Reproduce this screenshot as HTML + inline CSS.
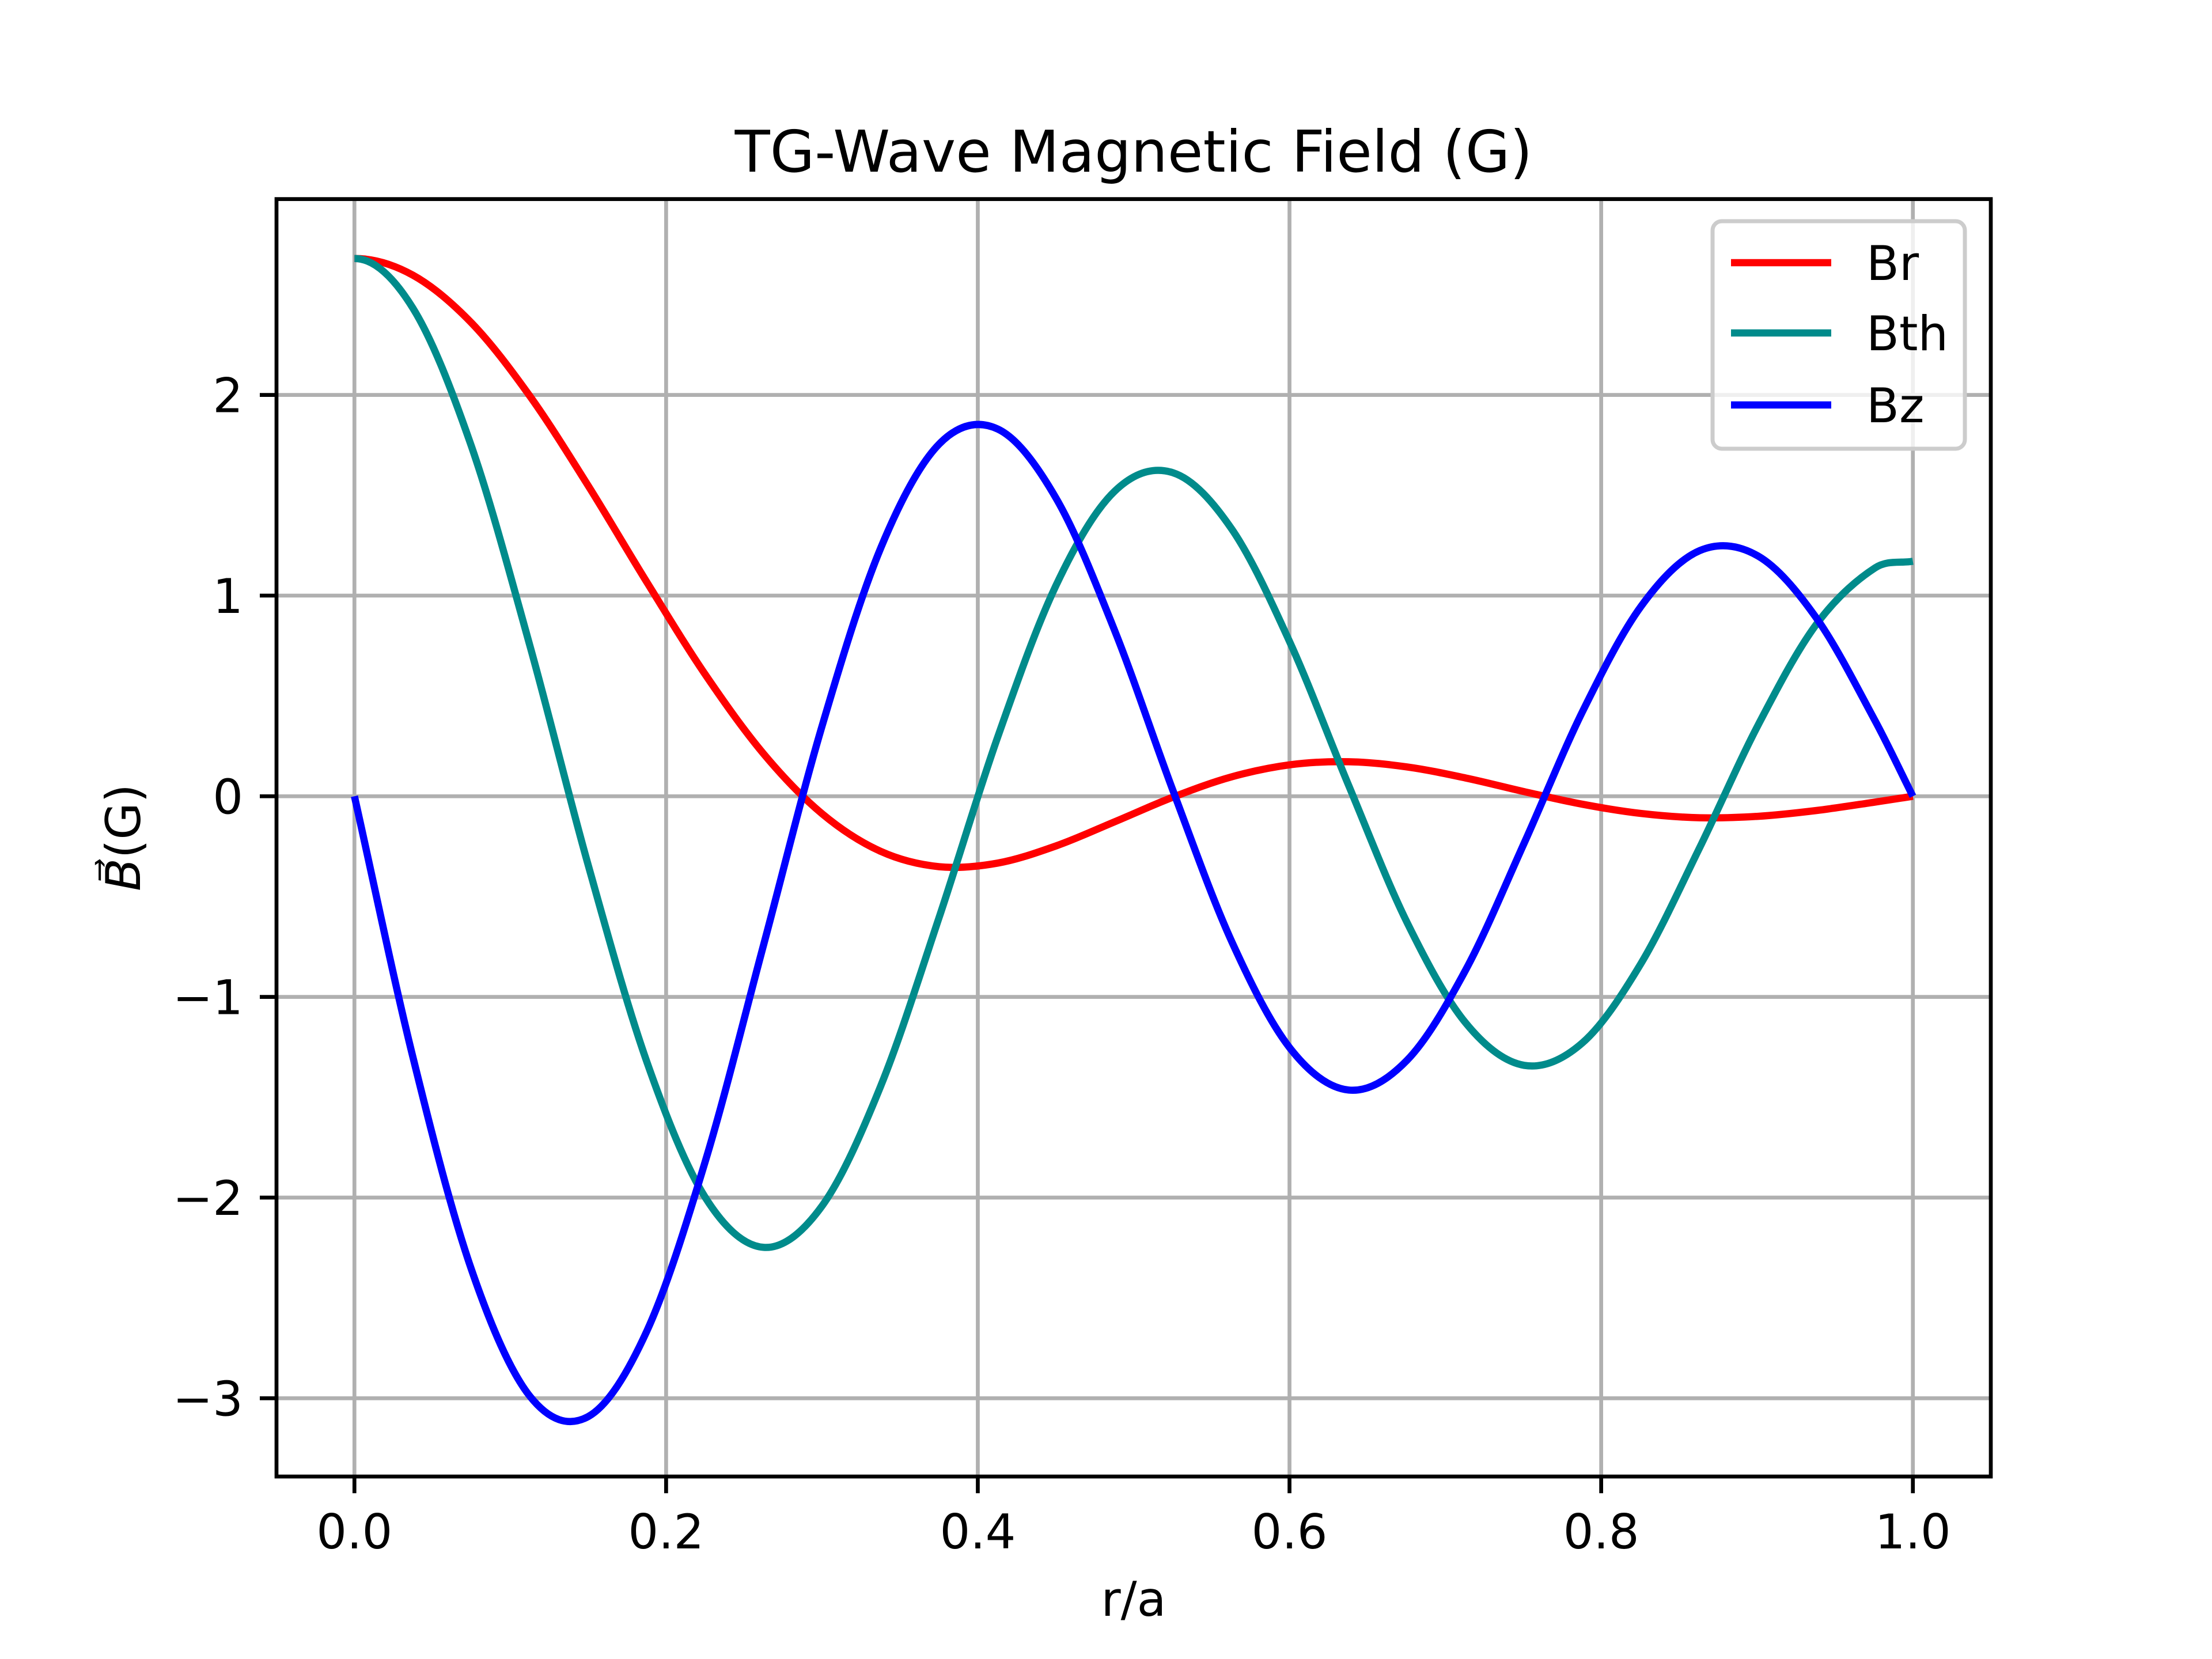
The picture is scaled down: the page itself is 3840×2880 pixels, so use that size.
<!DOCTYPE html>
<html><head><meta charset="utf-8"><style>
html,body{margin:0;padding:0;background:#fff;}
svg{display:block;font-family:"DejaVu Sans","Liberation Sans",sans-serif;}
</style></head><body>
<svg id="chart" width="3840" height="2880" viewBox="0 0 3840 2880" xmlns="http://www.w3.org/2000/svg">
<rect width="3840" height="2880" fill="#fff"/>
<g id="grid"></g>
<g id="series"></g>
<g id="axes"></g>
<text x="1968" y="298" font-size="100" text-anchor="middle">TG-Wave Magnetic Field (G)</text>
<text x="1968" y="2805" font-size="83" text-anchor="middle">r/a</text>
<text transform="translate(243,1454) rotate(-90)" font-size="83" text-anchor="middle"><tspan font-style="italic">B⃗</tspan>(G)</text>
<g id="legend">
<rect x="2973" y="384" width="438" height="395" rx="16" fill="#fff" fill-opacity="0.8" stroke="#cccccc" stroke-width="7"/>
</g>
</svg>
<script>
const rVals = [0, 0.0375, 0.0751, 0.1126, 0.1501, 0.1877, 0.2252, 0.2627, 0.3002, 0.3378, 0.3753, 0.4128, 0.4504, 0.4879, 0.5254, 0.5630, 0.6005, 0.6380, 0.6755, 0.7131, 0.7506, 0.7881, 0.8257, 0.8632, 0.9007, 0.9382, 0.9757, 1.0];
const brVals = [2.68, 2.597, 2.359, 1.994, 1.546, 1.066, 0.606, 0.210, -0.088, -0.275, -0.351, -0.333, -0.247, -0.127, -0.004, 0.097, 0.157, 0.172, 0.146, 0.091, 0.023, -0.040, -0.086, -0.107, -0.100, -0.071, -0.029, 0];
const bthVals = [2.68, 2.433, 1.743, 0.750, -0.346, -1.325, -2.000, -2.248, -2.040, -1.442, -0.601, 0.296, 1.054, 1.521, 1.612, 1.331, 0.763, 0.053, -0.630, -1.130, -1.341, -1.228, -0.831, -0.256, 0.355, 0.858, 1.138, 1.171];
const bzVals = [0, -1.299, -2.359, -2.990, -3.091, -2.664, -1.818, -0.736, 0.354, 1.239, 1.756, 1.830, 1.483, 0.824, 0.025, -0.725, -1.257, -1.464, -1.315, -0.865, -0.233, 0.423, 0.948, 1.224, 1.197, 0.887, 0.377, 0];
const seriesNames = ["Br", "Bth", "Bz"];
const seriesColors = ["#ff0000", "#008b8b", "#0000ff"];
const seriesParity = [1, 1, -1];
const xTicks = [0, 0.2, 0.4, 0.6, 0.8, 1.0];
const xTickLabels = ["0.0", "0.2", "0.4", "0.6", "0.8", "1.0"];
const yTicks = [-3, -2, -1, 0, 1, 2];
const yTickLabels = ["\u22123", "\u22122", "\u22121", "0", "1", "2"];

const NS = "http://www.w3.org/2000/svg";
const L = 480, R = 3456, T = 345.6, B = 2563.2;
const xMin = -0.05, xMax = 1.05, yMin = -3.39, yMax = 2.976;
function sx(v){ return L + (v - xMin) / (xMax - xMin) * (R - L); }
function sy(v){ return B - (v - yMin) / (yMax - yMin) * (B - T); }
function mk(tag, attrs, parent){ const e = document.createElementNS(NS, tag); for (const k in attrs) e.setAttribute(k, attrs[k]); parent.appendChild(e); return e; }

const grid = document.getElementById('grid');
const axes = document.getElementById('axes');
xTicks.forEach((t, i) => {
  const g = mk('line', {x1: sx(t), x2: sx(t), y1: T, y2: B, stroke: '#b0b0b0', 'stroke-width': 6.7}, grid);
  
  
  const tk = mk('line', {x1: sx(t), x2: sx(t), y1: B, y2: B + 29, stroke: '#000', 'stroke-width': 6.7}, axes);
  
  
  const tx = mk('text', {x: sx(t), y: 2688, 'font-size': 83, 'text-anchor': 'middle'}, axes);
  tx.textContent = xTickLabels[i];
  
  
});
yTicks.forEach((t, i) => {
  const g = mk('line', {x1: L, x2: R, y1: sy(t), y2: sy(t), stroke: '#b0b0b0', 'stroke-width': 6.7}, grid);
  
  
  const tk = mk('line', {x1: L - 29, x2: L, y1: sy(t), y2: sy(t), stroke: '#000', 'stroke-width': 6.7}, axes);
  
  
  const tx = mk('text', {x: L - 58, y: sy(t) + 30, 'font-size': 83, 'text-anchor': 'end'}, axes);
  tx.textContent = yTickLabels[i];
  
  
});
const frame = mk('rect', {x: L, y: T, width: R - L, height: B - T, fill: 'none', stroke: '#000', 'stroke-width': 6.7}, axes);



function smoothPath(xs, ys, parity){
  const n = xs.length;
  const m = [];
  for (let i = 0; i < n; i++) {
    let xa, ya, xb, yb;
    if (i === 0) { xa = -xs[1]; ya = parity * ys[1]; xb = xs[1]; yb = ys[1]; }
    else if (i === n - 1) { xa = xs[n - 2]; ya = ys[n - 2]; xb = xs[n - 1]; yb = ys[n - 1]; }
    else { xa = xs[i - 1]; ya = ys[i - 1]; xb = xs[i + 1]; yb = ys[i + 1]; }
    m.push((yb - ya) / (xb - xa));
  }
  let d = 'M' + sx(xs[0]).toFixed(1) + ',' + sy(ys[0]).toFixed(1);
  for (let i = 0; i < n - 1; i++) {
    const h = xs[i + 1] - xs[i];
    const c1x = xs[i] + h / 3, c1y = ys[i] + m[i] * h / 3;
    const c2x = xs[i + 1] - h / 3, c2y = ys[i + 1] - m[i + 1] * h / 3;
    d += 'C' + sx(c1x).toFixed(1) + ',' + sy(c1y).toFixed(1) + ' ' + sx(c2x).toFixed(1) + ',' + sy(c2y).toFixed(1) + ' ' + sx(xs[i + 1]).toFixed(1) + ',' + sy(ys[i + 1]).toFixed(1);
  }
  return d;
}
const series = document.getElementById('series');
const allVals = [brVals, bthVals, bzVals];
allVals.forEach((vals, k) => {
  const path = mk('path', {d: smoothPath(rVals, vals, seriesParity[k]), fill: 'none', stroke: seriesColors[k], 'stroke-width': 12.5, 'stroke-linejoin': 'round', 'stroke-linecap': 'butt'}, series);
  
  
});

const legend = document.getElementById('legend');
const legendY = [456, 578, 703];
seriesNames.forEach((n, k) => {
  const ln = mk('line', {x1: 3005, x2: 3179, y1: legendY[k], y2: legendY[k], stroke: seriesColors[k], 'stroke-width': 12.5}, legend);
  
  
  const tx = mk('text', {x: 3240, y: legendY[k] + 30, 'font-size': 83}, legend);
  tx.textContent = n;
  
  
});
</script>
</body></html>
